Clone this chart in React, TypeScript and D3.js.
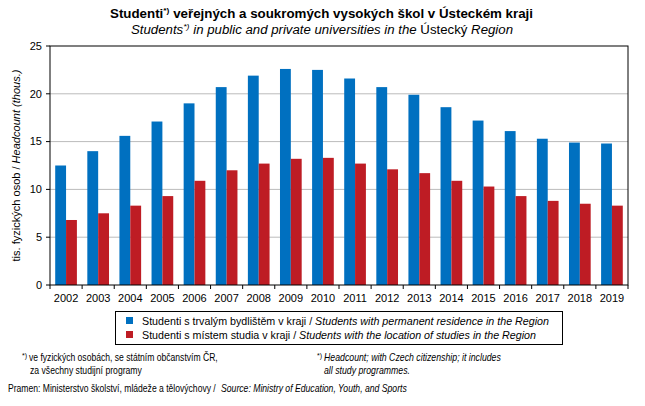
import { useEffect, useRef } from "react"
import * as d3 from "d3"

const years = ["2002", "2003", "2004", "2005", "2006", "2007", "2008", "2009", "2010", "2011", "2012", "2013", "2014", "2015", "2016", "2017", "2018", "2019"]
const residence = [12.5, 14.0, 15.6, 17.1, 19.0, 20.7, 21.9, 22.6, 22.5, 21.6, 20.7, 19.9, 18.6, 17.2, 16.1, 15.3, 14.9, 14.8]
const studyPlace = [6.8, 7.5, 8.3, 9.3, 10.9, 12.0, 12.7, 13.2, 13.3, 12.7, 12.1, 11.7, 10.9, 10.3, 9.3, 8.8, 8.5, 8.3]
const yTicks = [0, 5, 10, 15, 20, 25]

const BLUE = "#0070C0"
const RED = "#BE1C24"
const FONT = "'Liberation Sans', Arial, sans-serif"

export default function App() {
  const svgRef = useRef<SVGSVGElement>(null)
  const width = 645
  const height = 406

  useEffect(() => {
    const svg = d3.select(svgRef.current)
    svg.selectAll("*").remove()

    const left = 50, right = 628, top = 46, bottom = 285

    const x = d3.scaleBand().domain(years).range([left, right]).paddingInner(0).paddingOuter(0)
    const inner = d3.scaleBand().domain(["a", "b"]).range([0, x.bandwidth()]).paddingInner(0).paddingOuter(0.48)
    const y = d3.scaleLinear().domain([0, 25]).range([bottom, top])

    // gridlines
    svg.append("g")
      .selectAll("line")
      .data(yTicks.filter((t) => t > 0 && t < 25))
      .enter()
      .append("line")
      .attr("x1", left).attr("x2", right)
      .attr("y1", (d) => y(d)).attr("y2", (d) => y(d))
      .attr("stroke", "#BBBBBB").attr("stroke-width", 1)

    // bars
    const groups = svg.append("g").selectAll("g").data(years).enter().append("g")
      .attr("transform", (d) => `translate(${x(d)},0)`)
    groups.append("rect")
      .attr("x", inner("a")!).attr("width", inner.bandwidth())
      .attr("y", (_, i) => y(residence[i])).attr("height", (_, i) => bottom - y(residence[i]))
      .attr("fill", BLUE)
    groups.append("rect")
      .attr("x", inner("b")!).attr("width", inner.bandwidth())
      .attr("y", (_, i) => y(studyPlace[i])).attr("height", (_, i) => bottom - y(studyPlace[i]))
      .attr("fill", RED)

    // frame
    svg.append("rect")
      .attr("x", left).attr("y", top).attr("width", right - left).attr("height", bottom - top)
      .attr("fill", "none").attr("stroke", "#000").attr("stroke-width", 1)

    // y ticks and labels
    const yg = svg.append("g")
    yTicks.forEach((t) => {
      yg.append("line").attr("x1", left - 4).attr("x2", left).attr("y1", y(t)).attr("y2", y(t)).attr("stroke", "#000")
      yg.append("text").attr("x", left - 8).attr("y", y(t)).attr("dy", "0.35em")
        .attr("text-anchor", "end").attr("font-size", 11).attr("font-family", FONT).text(t)
    })

    // x ticks and labels
    const xg = svg.append("g")
    years.forEach((yr, i) => {
      const x0 = x(yr)!
      xg.append("line").attr("x1", x0).attr("x2", x0).attr("y1", bottom).attr("y2", bottom + 4).attr("stroke", "#000")
      if (i === years.length - 1) {
        xg.append("line").attr("x1", right).attr("x2", right).attr("y1", bottom).attr("y2", bottom + 4).attr("stroke", "#000")
      }
      xg.append("text").attr("x", x0 + x.bandwidth() / 2).attr("y", bottom + 17)
        .attr("text-anchor", "middle").attr("font-size", 11).attr("font-family", FONT).text(yr)
    })

    // y axis title
    const yt = svg.append("text")
      .attr("transform", `translate(20,${(top + bottom) / 2}) rotate(-90)`)
      .attr("text-anchor", "middle").attr("font-size", 10.5).attr("font-family", FONT)
      .attr("textLength", 192).attr("lengthAdjust", "spacingAndGlyphs")
    yt.append("tspan").text("tis. fyzických osob / ")
    yt.append("tspan").attr("font-style", "italic").text("Headcount (thous.)")

    // title
    const t1 = svg.append("text").attr("x", 110).attr("y", 18)
      .attr("font-size", 12.5).attr("font-weight", "bold").attr("font-family", FONT)
      .attr("textLength", 423).attr("lengthAdjust", "spacingAndGlyphs")
    t1.append("tspan").text("Studenti")
    t1.append("tspan").attr("font-size", 8).attr("dy", -5).text("*)")
    t1.append("tspan").attr("dy", 5).text(" veřejných a soukromých  vysokých  škol v Ústeckém kraji")

    const t2 = svg.append("text").attr("x", 131).attr("y", 34)
      .attr("font-size", 12).attr("font-style", "italic").attr("font-family", FONT)
      .attr("textLength", 382).attr("lengthAdjust", "spacingAndGlyphs")
    t2.append("tspan").text("Students")
    t2.append("tspan").attr("font-size", 8).attr("dy", -5).text("*)")
    t2.append("tspan").attr("dy", 5).text(" in public and private  universities in the ")
    t2.append("tspan").attr("font-style", "normal").text("Ústecký")
    t2.append("tspan").text(" Region")

    // legend
    svg.append("rect").attr("x", 115.5).attr("y", 311.5).attr("width", 447).attr("height", 33)
      .attr("fill", "#fff").attr("stroke", "#000")
    const legendItems = [
      { color: BLUE, cz: "Studenti s trvalým bydlištěm  v kraji / ", en: "Students with permanent residence in the Region", len: 407 },
      { color: RED, cz: "Studenti s místem  studia v kraji / ", en: "Students with the location of studies in the Region", len: 394 },
    ]
    legendItems.forEach((it, i) => {
      const ly = 321 + i * 14
      svg.append("rect").attr("x", 126).attr("y", ly - 4).attr("width", 7).attr("height", 7).attr("fill", it.color)
      const lt = svg.append("text").attr("x", 142).attr("y", ly).attr("dy", "0.35em")
        .attr("font-size", 10.5).attr("font-family", FONT)
        .attr("textLength", it.len).attr("lengthAdjust", "spacingAndGlyphs")
      lt.append("tspan").text(it.cz)
      lt.append("tspan").attr("font-style", "italic").text(it.en)
    })

    // footnotes: narrow text, squeezed horizontally to the reference width
    const plain = (xx: number, yy: number, txt: string, len: number, italic: boolean) => {
      const el = svg.append("text").attr("font-size", 10.5).attr("font-family", FONT).text(txt)
      if (italic) el.attr("font-style", "italic")
      const natural = (el.node() as SVGTextElement).getComputedTextLength() || len
      el.attr("transform", `translate(${xx},${yy}) scale(${len / natural},1)`)
      return el
    }
    const mark = (xx: number, yy: number) =>
      svg.append("text").attr("x", xx).attr("y", yy - 3).attr("font-size", 7).attr("font-family", FONT).text("*)")

    mark(22, 361)
    plain(29, 361, "ve fyzických osobách, se státním občanstvím ČR,", 189, false)
    plain(30, 374, "za všechny studijní programy", 112, false)
    mark(317, 361)
    plain(324, 361, "Headcount; with Czech citizenship; it includes", 177, true)
    plain(324, 374, "all study programmes.", 86, true)

    plain(8, 392, "Pramen:  Ministerstvo školství, mládeže a tělovýchovy /", 208, false)
    plain(221, 392, "Source: Ministry of Education, Youth, and Sports", 186, true)
  }, [])

  return (
    <svg ref={svgRef} width={width} height={height} style={{ position: "absolute", left: 0, top: 0, background: "#fff" }} />
  )
}
